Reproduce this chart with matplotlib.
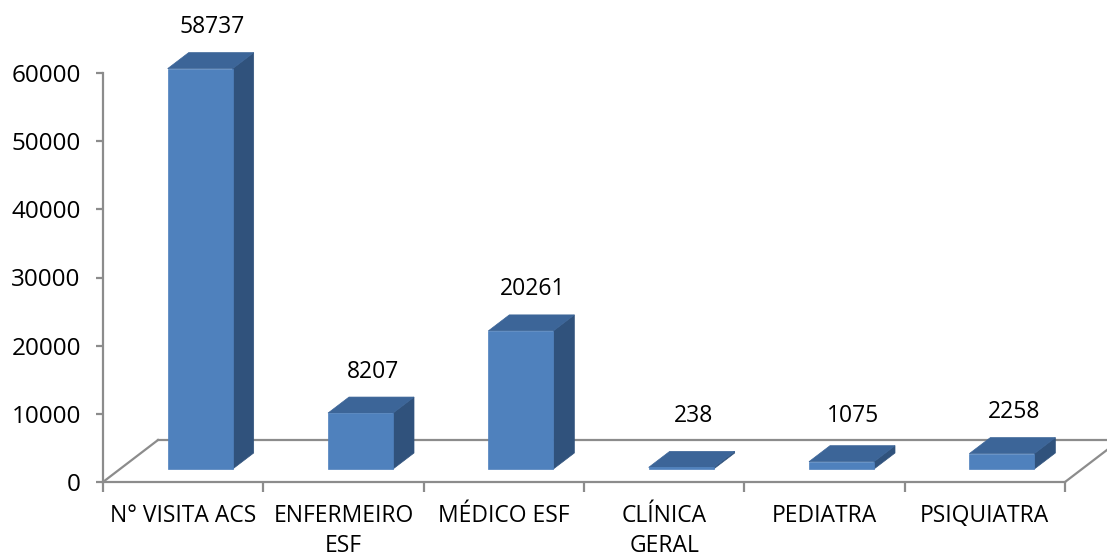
import matplotlib
matplotlib.use("Agg")
import matplotlib.pyplot as plt
from matplotlib.patches import Polygon

plt.rcParams['font.family'] = ['Open Sans', 'DejaVu Sans']

categories = ["N° VISITA ACS", "ENFERMEIRO\nESF", "MÉDICO ESF", "CLÍNICA\nGERAL", "PEDIATRA", "PSIQUIATRA"]
values = [58737, 8207, 20261, 238, 1075, 2258]
yticks = [0, 10000, 20000, 30000, 40000, 50000, 60000]

FRONT = '#4F81BD'
TOP = '#3C6598'
SIDE = '#30527C'
GRID = '#8C8C8C'

fig = plt.figure(figsize=(11.07, 5.59), dpi=100)
ax = fig.add_axes([103 / 1107, 77 / 559, 962 / 1107, 409 / 559])
ax.set_xlim(0, 6)
ax.set_ylim(0, 60000)

# pixel -> data helpers for the fake 3d depth
px_x = 6 / 962
px_y = 60000 / 409

floor_dx, floor_dy = 55 * px_x, 42 * px_y
f_dx, f_dy = 17 * px_x, 13 * px_y   # bar front plane
b_dx, b_dy = 38 * px_x, 29 * px_y   # bar back plane
half_w = 32.5 * px_x

# floor outline
ax.plot([0, floor_dx], [0, floor_dy], color=GRID, lw=1.6, clip_on=False, zorder=1)
ax.plot([floor_dx, 6 + floor_dx], [floor_dy, floor_dy], color=GRID, lw=1.6, clip_on=False, zorder=1)
ax.plot([6, 6 + floor_dx], [0, floor_dy], color=GRID, lw=1.6, clip_on=False, zorder=1)

for i, v in enumerate(values):
    c = i + 0.5
    x0, x1 = c + f_dx - half_w, c + f_dx + half_w
    y0, y1 = f_dy, f_dy + v
    ddx, ddy = b_dx - f_dx, b_dy - f_dy
    front = Polygon([(x0, y0), (x1, y0), (x1, y1), (x0, y1)], closed=True,
                    facecolor=FRONT, edgecolor=FRONT, lw=0.5, clip_on=False, zorder=3)
    top = Polygon([(x0, y1), (x1, y1), (x1 + ddx, y1 + ddy), (x0 + ddx, y1 + ddy)], closed=True,
                  facecolor=TOP, edgecolor=TOP, lw=0.5, clip_on=False, zorder=3)
    side = Polygon([(x1, y0), (x1 + ddx, y0 + ddy), (x1 + ddx, y1 + ddy), (x1, y1)], closed=True,
                   facecolor=SIDE, edgecolor=SIDE, lw=0.5, clip_on=False, zorder=3)
    for p in (side, top, front):
        ax.add_patch(p)
    ax.text(c + 12 * px_x + f_dx, max(v, 1700) + 8000, str(v), ha='center', va='center',
            fontsize=16.5, color='black', clip_on=False)

for s in ['top', 'right']:
    ax.spines[s].set_visible(False)
for s in ['left', 'bottom']:
    ax.spines[s].set_color(GRID)
    ax.spines[s].set_linewidth(1.6)

ax.set_yticks(yticks)
ax.set_yticklabels([str(t) for t in yticks], fontsize=17.5)
ax.tick_params(axis='y', length=5, width=1.6, color=GRID, pad=11)

ax.set_xticks(range(7))
ax.set_xticklabels([])
ax.tick_params(axis='x', which='major', length=7, width=1.6, color=GRID)
ax.set_xticks([i + 0.5 for i in range(6)], minor=True)
ax.set_xticklabels(categories, minor=True, fontsize=16.5, linespacing=1.3)
ax.tick_params(axis='x', which='minor', length=0, pad=16)

fig.savefig("out.png", dpi=100)
